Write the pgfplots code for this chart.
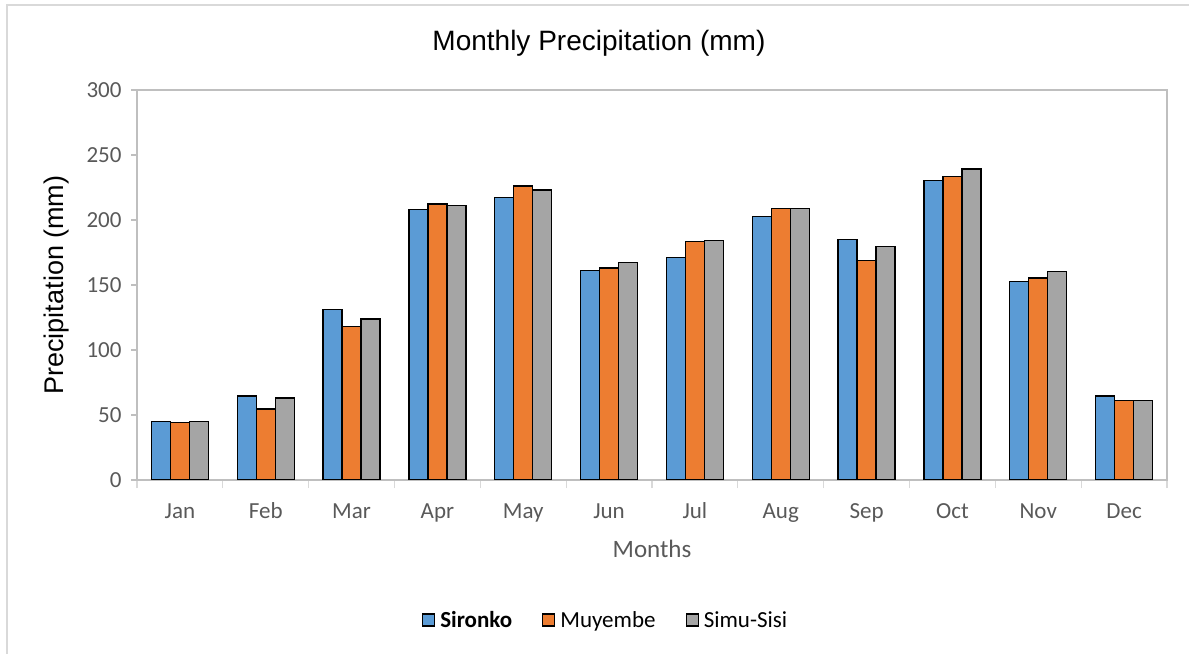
\documentclass[border=0pt]{standalone}
\usepackage{fontspec}
\setmainfont{Carlito}
\newfontfamily\arial{Liberation Sans}
\usepackage{pgfplots}
\pgfplotsset{compat=1.18}

\definecolor{cblue}{HTML}{5B9BD5}
\definecolor{corange}{HTML}{ED7D31}
\definecolor{cgray}{HTML}{A5A5A5}
\definecolor{txtgray}{HTML}{595959}
\definecolor{axgray}{HTML}{BFBFBF}
\definecolor{framegray}{HTML}{D9D9D9}

\begin{document}
\begin{tikzpicture}
\useasboundingbox (0,0) rectangle (1189bp,654bp);
% outer chart frame (left and top edges only show)
\draw[framegray, line width=1.5bp] (7bp,0) -- (7bp,649bp) -- (1189bp,649bp);
\begin{axis}[
    at={(137bp,174bp)}, anchor=south west,
    scale only axis,
    width=1030bp, height=390bp,
    ybar=0bp, bar width=19bp,
    xmin=-0.5, xmax=11.5,
    ymin=0, ymax=300,
    ytick={0,50,...,300},
    xtick={0,...,11},
    xticklabels={Jan,Feb,Mar,Apr,May,Jun,Jul,Aug,Sep,Oct,Nov,Dec},
    minor xtick={-0.5,0.5,...,11.5},
    tick pos=left,
    tick align=outside,
    major tick length=6bp,
    minor tick length=8bp,
    major x tick style={draw=none},
    minor x tick style={draw=framegray, line width=1.3bp},
    ytick style={draw=axgray, line width=1.3bp},
    axis line style={draw=axgray, line width=1.3bp},
    /pgf/number format/assume math mode=true,
    tick label style={font=\fontsize{23bp}{27bp}\selectfont, text=txtgray},
    xticklabel style={anchor=base, yshift=-32bp},
    yticklabel style={xshift=-6bp},
    title={Monthly Precipitation (mm)},
    title style={font=\arial\fontsize{28bp}{32bp}\selectfont, at={(0.4485,1.105)}, anchor=center},
    xlabel={Months},
    xlabel style={font=\fontsize{25bp}{30bp}\selectfont, text=txtgray, at={(0.5,-0.177)}, anchor=center},
    ylabel={Precipitation (mm)},
    ylabel style={font=\arial\fontsize{27bp}{32bp}\selectfont, at={(-0.0777,0.5)}, anchor=center},
    legend columns=3,
    legend style={draw=none, at={(0.455,-0.359)}, anchor=center,
        font=\fontsize{23bp}{27bp}\selectfont,
        /tikz/every odd column/.append style={column sep=3bp},
        /tikz/every even column/.append style={column sep=28bp}},
    legend image code/.code={\draw[#1, line width=1.2bp] (0bp,-6bp) rectangle (12bp,6bp);},
    every axis plot/.append style={draw=black, line width=1.4bp},
]
\addplot[fill=cblue] coordinates {(0,45) (1,64.6) (2,131.3) (3,208) (4,217.4) (5,161.3) (6,171.3) (7,202.8) (8,185.1) (9,230.3) (10,152.8) (11,64.6)};
\addplot[fill=corange] coordinates {(0,44) (1,54.6) (2,118.2) (3,212.3) (4,226.2) (5,163) (6,183.3) (7,208.7) (8,169) (9,233.3) (10,155.4) (11,61.3)};
\addplot[fill=cgray] coordinates {(0,45) (1,63) (2,123.8) (3,211) (4,223) (5,167.2) (6,184.4) (7,209) (8,179.7) (9,239.2) (10,160.5) (11,61.3)};
\legend{\textbf{Sironko},Muyembe,Simu-Sisi}
\end{axis}
\end{tikzpicture}
\end{document}
